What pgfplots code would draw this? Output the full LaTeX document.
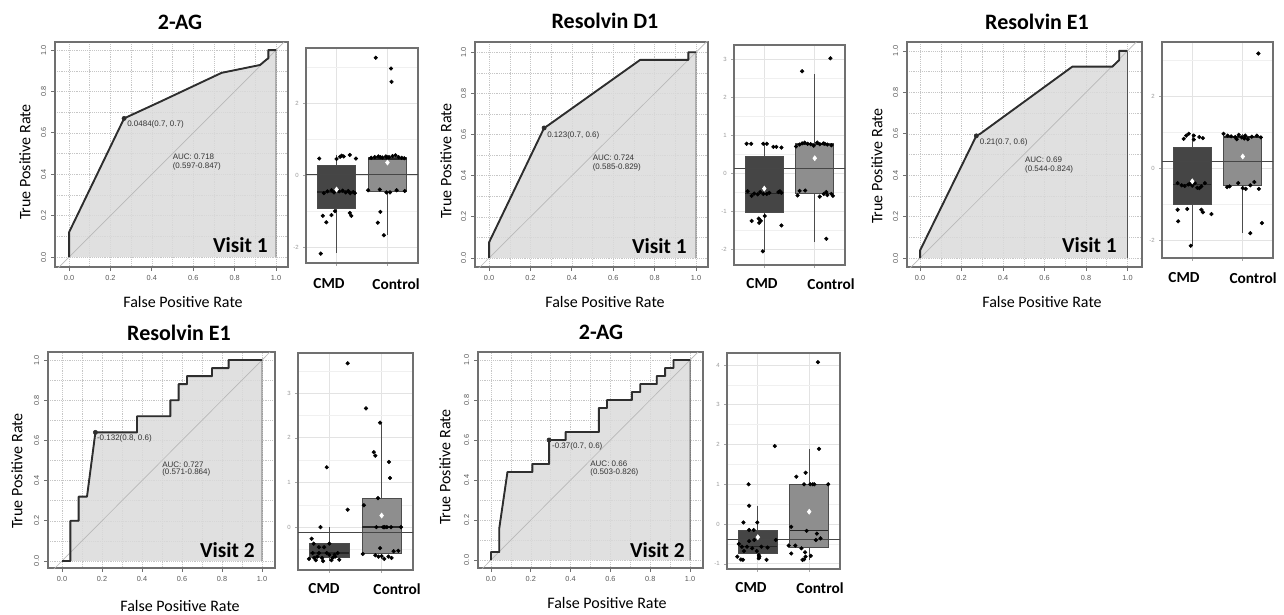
\documentclass[border=0pt]{standalone}
\usepackage{pgfplots}
\pgfplotsset{compat=1.18}
\usepgfplotslibrary{statistics}
\usepackage{fontspec}
\setmainfont{Carlito}
\newfontfamily\arial{Liberation Sans}

\definecolor{curve}{HTML}{2E2E2E}
\definecolor{fillg}{HTML}{DADADA}
\definecolor{cmdfill}{HTML}{454545}
\definecolor{ctlfill}{HTML}{8E8E8E}
\definecolor{frame}{HTML}{707070}

\tikzset{
  ttl/.style={font=\bfseries\fontsize{16.5}{18}\selectfont, inner sep=0pt},
  lab/.style={font=\fontsize{12}{14}\selectfont, inner sep=0pt},
  vis/.style={font=\bfseries\fontsize{16}{18}\selectfont, inner sep=0pt, anchor=base east},
  cat/.style={font=\bfseries\fontsize{11.5}{13}\selectfont, inner sep=0pt},
  auc/.style={font=\arial\fontsize{6}{7}\selectfont, text=black!80, inner sep=0pt, anchor=west},
}

\pgfplotsset{
  rocax/.style={
    scale only axis, anchor=north west,
    axis line style={frame, line width=0.9pt},
    xtick={0,0.2,0.4,0.6,0.8,1}, xticklabels={0.0,0.2,0.4,0.6,0.8,1.0},
    ytick={0,0.2,0.4,0.6,0.8,1}, yticklabels={0.0,0.2,0.4,0.6,0.8,1.0},
    minor xtick={0.1,0.3,0.5,0.7,0.9}, minor ytick={0.1,0.3,0.5,0.7,0.9},
    grid=both,
    major grid style={densely dotted, gray!45},
    minor grid style={densely dotted, gray!45},
    tick align=outside, major tick length=3pt, minor tick length=0pt,
    tick style={frame, line width=0.6pt},
    xtick pos=bottom, ytick pos=left,
    ticklabel style={font=\arial\fontsize{5.5}{6}\selectfont, text=gray!70!black},
    yticklabel style={rotate=90, anchor=south},
    /pgf/number format/assume math mode=true,
  },
  rocfill/.style={fill=fillg, fill opacity=0.85, draw=gray!65!black, line width=0.7pt},
  diag/.style={gray!55, line width=0.5pt},
  roccurve/.style={curve, line width=1.4pt, line join=round},
  rocmark/.style={only marks, mark=*, mark size=1.6pt, mark options={fill=curve, draw=curve}},
  boxax/.style={
    scale only axis, anchor=north west,
    xmin=0.4, xmax=2.6, xtick={1,2}, xticklabels={},
    axis line style={frame, line width=0.8pt},
    grid=both,
    major grid style={gray!22, line width=0.6pt},
    minor grid style={gray!12, line width=0.4pt},
    tick align=outside, major tick length=2pt, minor tick length=0pt,
    tick style={gray!70, line width=0.5pt},
    xtick pos=bottom, ytick pos=left,
    yticklabel style={font=\arial\fontsize{4.5}{5}\selectfont, text=gray!80},
    /pgf/number format/assume math mode=true,
  },
  boxst/.style={draw=gray!60!black, line width=0.7pt,
    boxplot/draw direction=y,
    boxplot/whisker extend=0,
    boxplot/every median/.style={draw=black!85, line width=1pt}},
  hline/.style={gray!55!black, line width=0.8pt},
  pts/.style={only marks, mark=*, mark size=1.35pt, mark options={fill=black, draw=black}},
  meanpt/.style={only marks, mark=diamond*, mark size=1.9pt, mark options={fill=white, draw=white}},
}

\begin{document}
\begin{tikzpicture}
\useasboundingbox (0,0) rectangle (0.75*1284pt,-0.75*614pt);

%================ ROC 1: 2-AG Visit 1
\begin{axis}[rocax, at={(0.75*55pt,-0.75*42pt)}, width=174.75pt, height=168.75pt,
  xmin=-0.068, xmax=1.058, ymin=-0.048, ymax=1.039]
\addplot[rocfill] coordinates {(0,0)(0,0.12)(0.266,0.67)(0.45,0.755)(0.737,0.89)(0.923,0.928)(0.955,0.955)(0.963,0.96)(0.963,1)(1,1)(1,0)};
\addplot[diag] coordinates {(-0.2,-0.2)(1.2,1.2)};
\addplot[roccurve] coordinates {(0,0)(0,0.12)(0.266,0.67)(0.45,0.755)(0.737,0.89)(0.923,0.928)(0.955,0.955)(0.963,0.96)(0.963,1)(1,1)};
\addplot[rocmark] coordinates {(0.266,0.67)};
\node[auc] at (axis cs:0.28,0.64) {0.0484(0.7, 0.7)};
\node[auc] at (axis cs:0.5,0.486) {AUC: 0.718};
\node[auc] at (axis cs:0.5,0.437) {(0.597-0.847)};
\end{axis}
\node[ttl] at (0.75*180pt,-0.75*22pt) {2-AG};
\node[lab, rotate=90] at (0.75*25pt,-0.75*162pt) {True Positive Rate};
\node[lab] at (0.75*183pt,-0.75*302pt) {False Positive Rate};
\node[vis] at (0.75*268pt,-0.75*252pt) {Visit 1};

%================ BOX 1
\begin{axis}[boxax, at={(0.75*306pt,-0.75*48pt)}, width=84pt, height=161.25pt,
  ymin=-2.44, ymax=3.53, ytick={-2,0,2}, yticklabels={-2,0,2}, minor ytick={-1,1,3}]
\addplot[boxst, fill=cmdfill, boxplot prepared={draw position=1, box extend=0.75,
  lower whisker=-2.15, lower quartile=-0.92, median=-0.47, upper quartile=0.27, upper whisker=0.56}] coordinates {};
\addplot[boxst, fill=ctlfill, boxplot prepared={draw position=2, box extend=0.75,
  lower whisker=-1.65, lower quartile=-0.45, median=0.45, upper quartile=0.5, upper whisker=0.55}] coordinates {};
\addplot[hline] coordinates {(0,0.03)(3,0.03)};
\addplot[pts] coordinates {(0.66,0.46)(1.00,0.45)(1.07,0.51)(1.10,0.54)(1.14,0.52)(1.26,0.56)(1.38,0.46)
 (0.75,-0.5)(0.82,-0.45)(0.9,-0.42)(1.0,-0.4)(1.05,-0.45)(1.12,-0.43)(1.18,-0.48)(1.23,-0.44)(1.27,-0.5)(1.33,-0.47)(1.36,-0.5)(0.95,-0.48)
 (0.73,-1.13)(0.80,-1.31)(0.90,-1.11)(0.97,-1.0)(1.26,-1.05)(1.29,-1.13)(0.69,-2.18)};
\addplot[pts] coordinates {(1.77,3.26)(2.07,2.96)(2.08,2.59)
 (1.68,0.48)(1.75,0.5)(1.82,0.52)(1.9,0.49)(1.97,0.52)(2.03,0.5)(2.1,0.53)(2.16,0.55)(2.22,0.5)(2.28,0.48)(2.33,0.47)(1.86,0.5)(2.0,0.48)
 (1.62,-0.42)(1.85,-0.4)(1.98,-0.48)(2.05,-0.48)(2.18,-0.42)(2.34,-0.44)
 (1.86,-1.02)(1.81,-1.32)(1.93,-1.67)};
\addplot[meanpt] coordinates {(1,-0.4)(2,0.35)};
\end{axis}
\node[cat] at (0.75*329pt,-0.75*284pt) {CMD};
\node[cat] at (0.75*396pt,-0.75*284pt) {Control};

%================ ROC 2: Resolvin D1 Visit 1
\begin{axis}[rocax, at={(0.75*475pt,-0.75*42pt)}, width=174.75pt, height=168.75pt,
  xmin=-0.068, xmax=1.058, ymin=-0.044, ymax=1.05]
\addplot[rocfill] coordinates {(0,0)(0,0.076)(0.266,0.632)(0.29,0.648)(0.73,0.963)(0.963,0.963)(0.963,1)(1,1)(1,0)};
\addplot[diag] coordinates {(-0.2,-0.2)(1.2,1.2)};
\addplot[roccurve] coordinates {(0,0)(0,0.076)(0.266,0.632)(0.29,0.648)(0.73,0.963)(0.963,0.963)(0.963,1)(1,1)};
\addplot[rocmark] coordinates {(0.266,0.632)};
\node[auc] at (axis cs:0.28,0.597) {0.123(0.7, 0.6)};
\node[auc] at (axis cs:0.5,0.489) {AUC: 0.724};
\node[auc] at (axis cs:0.5,0.44) {(0.585-0.829)};
\end{axis}
\node[ttl] at (0.75*605pt,-0.75*21pt) {Resolvin D1};
\node[lab, rotate=90] at (0.75*446pt,-0.75*161pt) {True Positive Rate};
\node[lab] at (0.75*605pt,-0.75*302pt) {False Positive Rate};
\node[vis] at (0.75*687pt,-0.75*253pt) {Visit 1};

%================ BOX 2
\begin{axis}[boxax, at={(0.75*734pt,-0.75*45pt)}, width=83.25pt, height=165pt,
  ymin=-2.42, ymax=3.37, ytick={-2,-1,0,1,2,3}, yticklabels={-2,-1,0,1,2,3},
  minor ytick={-1.5,-0.5,0.5,1.5,2.5}]
\addplot[boxst, fill=cmdfill, boxplot prepared={draw position=1, box extend=0.75,
  lower whisker=-2.06, lower quartile=-1.05, median=-0.54, upper quartile=0.44, upper whisker=0.77}] coordinates {};
\addplot[boxst, fill=ctlfill, boxplot prepared={draw position=2, box extend=0.75,
  lower whisker=-1.82, lower quartile=-0.53, median=0.75, upper quartile=0.77, upper whisker=2.6}] coordinates {};
\addplot[hline] coordinates {(0,0.13)(3,0.13)};
\addplot[pts] coordinates {(0.65,0.77)(0.74,0.77)(0.98,0.77)(1.05,0.77)(1.18,0.69)(1.24,0.69)(1.34,0.67)
 (0.67,-0.48)(0.75,-0.6)(0.8,-0.54)(0.87,-0.56)(0.92,-0.5)(0.98,-0.55)(1.05,-0.55)(1.28,-0.5)(1.31,-0.48)(1.34,-0.52)(1.1,-0.52)
 (0.75,-1.26)(0.89,-1.2)(0.9,-1.31)(0.93,-1.26)(1.01,-1.13)(1.34,-1.38)(0.97,-2.06)};
\addplot[pts] coordinates {(1.75,2.68)(2.31,3.02)
 (1.63,0.7)(1.7,0.75)(1.75,0.78)(1.8,0.8)(1.86,0.77)(1.92,0.76)(1.98,0.72)(2.05,0.8)(2.1,0.76)(2.17,0.78)(2.25,0.75)(2.33,0.73)(2.2,0.77)
 (1.66,-0.59)(1.81,-0.46)(2.1,-0.62)(2.18,-0.55)(2.23,-0.5)(2.33,-0.55)(2.36,-0.6)(1.7,-0.47)(2.25,-0.58)
 (2.23,-1.73)};
\addplot[meanpt] coordinates {(1,-0.41)(2,0.39)};
\end{axis}
\node[cat] at (0.75*762pt,-0.75*284pt) {CMD};
\node[cat] at (0.75*831pt,-0.75*284pt) {Control};

%================ ROC 3: Resolvin E1 Visit 1
\begin{axis}[rocax, at={(0.75*907pt,-0.75*42pt)}, width=176.25pt, height=168.75pt,
  xmin=-0.063, xmax=1.07, ymin=-0.043, ymax=1.043]
\addplot[rocfill] coordinates {(0,0)(0,0.037)(0.271,0.59)(0.29,0.6)(0.734,0.924)(0.927,0.924)(0.96,0.956)(0.96,1)(1,1)(1,0)};
\addplot[diag] coordinates {(-0.2,-0.2)(1.2,1.2)};
\addplot[roccurve] coordinates {(0,0)(0,0.037)(0.271,0.59)(0.29,0.6)(0.734,0.924)(0.927,0.924)(0.96,0.956)(0.96,1)(1,1)};
\addplot[rocmark] coordinates {(0.271,0.59)};
\node[auc] at (axis cs:0.287,0.56) {0.21(0.7, 0.6)};
\node[auc] at (axis cs:0.505,0.476) {AUC: 0.69};
\node[auc] at (axis cs:0.505,0.43) {(0.544-0.824)};
\end{axis}
\node[ttl] at (0.75*1037pt,-0.75*22pt) {Resolvin E1};
\node[lab, rotate=90] at (0.75*877pt,-0.75*166pt) {True Positive Rate};
\node[lab] at (0.75*1042pt,-0.75*302pt) {False Positive Rate};
\node[vis] at (0.75*1117pt,-0.75*252pt) {Visit 1};

%================ BOX 3
\begin{axis}[boxax, at={(0.75*1162pt,-0.75*42pt)}, width=83.25pt, height=162pt,
  ymin=-2.5, ymax=3.5, ytick={-2,0,2}, yticklabels={-2,0,2}, minor ytick={-1,1,3}]
\addplot[boxst, fill=cmdfill, boxplot prepared={draw position=1, box extend=0.75,
  lower whisker=-2.16, lower quartile=-1.02, median=-0.46, upper quartile=0.56, upper whisker=0.95}] coordinates {};
\addplot[boxst, fill=ctlfill, boxplot prepared={draw position=2, box extend=0.75,
  lower whisker=-1.81, lower quartile=-0.48, median=0.86, upper quartile=0.88, upper whisker=0.95}] coordinates {};
\addplot[hline] coordinates {(0,0.19)(3,0.19)};
\addplot[pts] coordinates {(0.83,0.81)(0.88,0.9)(0.93,0.95)(1.03,0.9)(1.03,0.79)(1.14,0.86)(1.21,0.83)
 (0.71,-0.42)(0.79,-0.48)(0.92,-0.46)(0.95,-0.44)(1.0,-0.49)(1.05,-0.42)(1.14,-0.56)(1.18,-0.51)(1.25,-0.42)(0.85,-0.5)(1.1,-0.55)
 (0.71,-1.16)(0.72,-1.48)(0.9,-1.14)(1.18,-1.16)(1.21,-1.23)(1.38,-1.28)(0.97,-2.16)};
\addplot[pts] coordinates {(2.31,3.18)(2.38,-1.53)(2.15,-1.81)
 (1.62,0.95)(1.7,0.9)(1.77,0.88)(1.85,0.86)(1.92,0.92)(1.98,0.85)(2.05,0.9)(2.1,0.8)(2.18,0.87)(2.28,0.9)(2.36,0.85)(1.88,0.8)(2.03,0.82)
 (1.69,-0.53)(1.74,-0.51)(1.91,-0.42)(2.0,-0.56)(2.06,-0.58)(2.15,-0.48)(2.23,-0.39)(2.32,-0.58)};
\addplot[meanpt] coordinates {(1,-0.37)(2,0.32)};
\end{axis}
\node[cat] at (0.75*1184pt,-0.75*278pt) {CMD};
\node[cat] at (0.75*1253pt,-0.75*278pt) {Control};

%================ ROC 4: Resolvin E1 Visit 2
\begin{axis}[rocax, at={(0.75*48pt,-0.75*352pt)}, width=170.25pt, height=162pt,
  xmin=-0.07, xmax=1.065, ymin=-0.035, ymax=1.04]
\addplot[rocfill] coordinates {(0,0)(0.042,0)(0.042,0.2)(0.083,0.2)(0.083,0.32)(0.125,0.32)(0.167,0.64)(0.375,0.64)(0.375,0.72)(0.542,0.72)(0.542,0.8)(0.583,0.8)(0.583,0.88)(0.625,0.88)(0.625,0.92)(0.75,0.92)(0.75,0.96)(0.833,0.96)(0.833,1.0)(1,1)(1,0)};
\addplot[diag] coordinates {(-0.2,-0.2)(1.2,1.2)};
\addplot[roccurve] coordinates {(0,0)(0.042,0)(0.042,0.2)(0.083,0.2)(0.083,0.32)(0.125,0.32)(0.167,0.64)(0.375,0.64)(0.375,0.72)(0.542,0.72)(0.542,0.8)(0.583,0.8)(0.583,0.88)(0.625,0.88)(0.625,0.92)(0.75,0.92)(0.75,0.96)(0.833,0.96)(0.833,1.0)(1,1)};
\addplot[rocmark] coordinates {(0.167,0.64)};
\node[auc] at (axis cs:0.174,0.61) {-0.132(0.8, 0.6)};
\node[auc] at (axis cs:0.5,0.48) {AUC: 0.727};
\node[auc] at (axis cs:0.5,0.44) {(0.571-0.864)};
\end{axis}
\node[ttl] at (0.75*179pt,-0.75*333pt) {Resolvin E1};
\node[lab, rotate=90] at (0.75*17pt,-0.75*471pt) {True Positive Rate};
\node[lab] at (0.75*180pt,-0.75*606pt) {False Positive Rate};
\node[vis] at (0.75*255pt,-0.75*557pt) {Visit 2};

%================ BOX 4
\begin{axis}[boxax, at={(0.75*298pt,-0.75*353pt)}, width=86.25pt, height=162.75pt,
  ymin=-0.96, ymax=3.9, ytick={0,1,2,3}, yticklabels={0,1,2,3},
  minor ytick={-0.5,0.5,1.5,2.5,3.5}]
\addplot[boxst, fill=cmdfill, boxplot prepared={draw position=1, box extend=0.75,
  lower whisker=-0.76, lower quartile=-0.69, median=-0.58, upper quartile=-0.37, upper whisker=0.0}] coordinates {};
\addplot[boxst, fill=ctlfill, boxplot prepared={draw position=2, box extend=0.75,
  lower whisker=-0.72, lower quartile=-0.6, median=0.0, upper quartile=0.65, upper whisker=2.34}] coordinates {};
\addplot[hline] coordinates {(0,-0.12)(3,-0.12)};
\addplot[pts] coordinates {(0.95,1.34)(0.83,0.0)(1.35,0.39)(1.35,3.67)
 (0.61,-0.71)(0.71,-0.69)(0.77,-0.66)(0.86,-0.69)(0.95,-0.58)(1.0,-0.62)(1.06,-0.69)(1.11,-0.66)(1.19,-0.73)(0.66,-0.26)(0.7,-0.37)(0.8,-0.45)(0.9,-0.45)(1.0,-0.37)(1.1,-0.62)(1.16,-0.58)(0.68,-0.58)(0.8,-0.58)(0.74,-0.74)(1.04,-0.74)(0.88,-0.76)};
\addplot[pts] coordinates {(1.7,2.66)(1.97,2.34)(1.88,1.6)(1.85,1.68)(2.14,1.46)(2.16,1.1)(1.93,0.65)(1.66,0.49)
 (1.9,0.0)(2.03,0.0)(2.06,0.0)(2.1,0.0)(2.18,0.0)(2.37,0.0)(1.97,-0.47)
 (1.64,-0.6)(1.88,-0.63)(1.94,-0.66)(2.05,-0.71)(2.13,-0.66)(2.19,-0.69)(2.23,-0.54)(2.32,-0.53)(2.0,-0.65)};
\addplot[meanpt] coordinates {(2,0.26)};
\end{axis}
\node[cat] at (0.75*324pt,-0.75*589pt) {CMD};
\node[cat] at (0.75*397pt,-0.75*589pt) {Control};

%================ ROC 5: 2-AG Visit 2
\begin{axis}[rocax, at={(0.75*478pt,-0.75*352pt)}, width=168.75pt, height=162pt,
  xmin=-0.065, xmax=1.065, ymin=-0.04, ymax=1.04]
\addplot[rocfill] coordinates {(0,0)(0,0.04)(0.042,0.04)(0.042,0.16)(0.083,0.44)(0.208,0.44)(0.208,0.48)(0.292,0.48)(0.292,0.6)(0.375,0.6)(0.375,0.64)(0.542,0.64)(0.542,0.76)(0.583,0.76)(0.583,0.8)(0.708,0.8)(0.708,0.84)(0.75,0.84)(0.75,0.88)(0.833,0.88)(0.833,0.92)(0.875,0.92)(0.875,0.96)(0.917,0.96)(0.917,1.0)(1,1)(1,0)};
\addplot[diag] coordinates {(-0.2,-0.2)(1.2,1.2)};
\addplot[roccurve] coordinates {(0,0)(0,0.04)(0.042,0.04)(0.042,0.16)(0.083,0.44)(0.208,0.44)(0.208,0.48)(0.292,0.48)(0.292,0.6)(0.375,0.6)(0.375,0.64)(0.542,0.64)(0.542,0.76)(0.583,0.76)(0.583,0.8)(0.708,0.8)(0.708,0.84)(0.75,0.84)(0.75,0.88)(0.833,0.88)(0.833,0.92)(0.875,0.92)(0.875,0.96)(0.917,0.96)(0.917,1.0)(1,1)};
\addplot[rocmark] coordinates {(0.292,0.6)};
\node[auc] at (axis cs:0.306,0.567) {-0.37(0.7, 0.6)};
\node[auc] at (axis cs:0.498,0.48) {AUC: 0.66};
\node[auc] at (axis cs:0.498,0.44) {(0.503-0.826)};
\end{axis}
\node[ttl] at (0.75*601pt,-0.75*332pt) {2-AG};
\node[lab, rotate=90] at (0.75*445pt,-0.75*467pt) {True Positive Rate};
\node[lab] at (0.75*607pt,-0.75*603pt) {False Positive Rate};
\node[vis] at (0.75*685pt,-0.75*557pt) {Visit 2};

%================ BOX 5
\begin{axis}[boxax, at={(0.75*727pt,-0.75*353pt)}, width=84.75pt, height=162pt,
  ymin=-1.13, ymax=4.3, ytick={-1,0,1,2,3,4}, yticklabels={-1,0,1,2,3,4},
  minor ytick={-0.5,0.5,1.5,2.5,3.5}]
\addplot[boxst, fill=cmdfill, boxplot prepared={draw position=1, box extend=0.75,
  lower whisker=-0.9, lower quartile=-0.75, median=-0.57, upper quartile=-0.15, upper whisker=0.46}] coordinates {};
\addplot[boxst, fill=ctlfill, boxplot prepared={draw position=2, box extend=0.75,
  lower whisker=-0.9, lower quartile=-0.59, median=-0.17, upper quartile=1.0, upper whisker=1.88}] coordinates {};
\addplot[hline] coordinates {(0,-0.38)(3,-0.38)};
\addplot[pts] coordinates {(0.82,1.0)(0.83,0.46)(0.72,0.04)(1.33,1.96)(0.99,0.04)(0.83,-0.15)(0.92,-0.15)
 (0.63,-0.5)(0.69,-0.57)(0.73,-0.68)(0.79,-0.57)(0.83,-0.43)(0.89,-0.61)(0.93,-0.4)(0.98,-0.68)(1.02,-0.78)(1.03,-0.82)(1.07,-0.57)(1.19,-0.59)(1.35,-0.4)(0.6,-0.82)(0.67,-0.89)(0.71,-0.9)(1.17,-0.9)(1.02,-0.86)};
\addplot[pts] coordinates {(2.17,4.07)(2.19,1.89)(1.93,1.29)(1.75,1.19)(1.9,1.0)(2.02,1.0)(2.07,1.0)(2.1,1.0)(2.37,1.0)
 (1.65,-0.07)(1.95,-0.17)(2.15,-0.24)(2.13,-0.4)(2.22,-0.36)(1.6,-0.54)(1.73,-0.54)(1.85,-0.61)(1.92,-0.71)(1.65,-0.74)(1.93,-0.82)(1.87,-0.9)(1.9,-0.89)(2.03,-0.8)};
\addplot[meanpt] coordinates {(1,-0.33)(2,0.31)};
\end{axis}
\node[cat] at (0.75*751pt,-0.75*588pt) {CMD};
\node[cat] at (0.75*820pt,-0.75*588pt) {Control};

\end{tikzpicture}
\end{document}
